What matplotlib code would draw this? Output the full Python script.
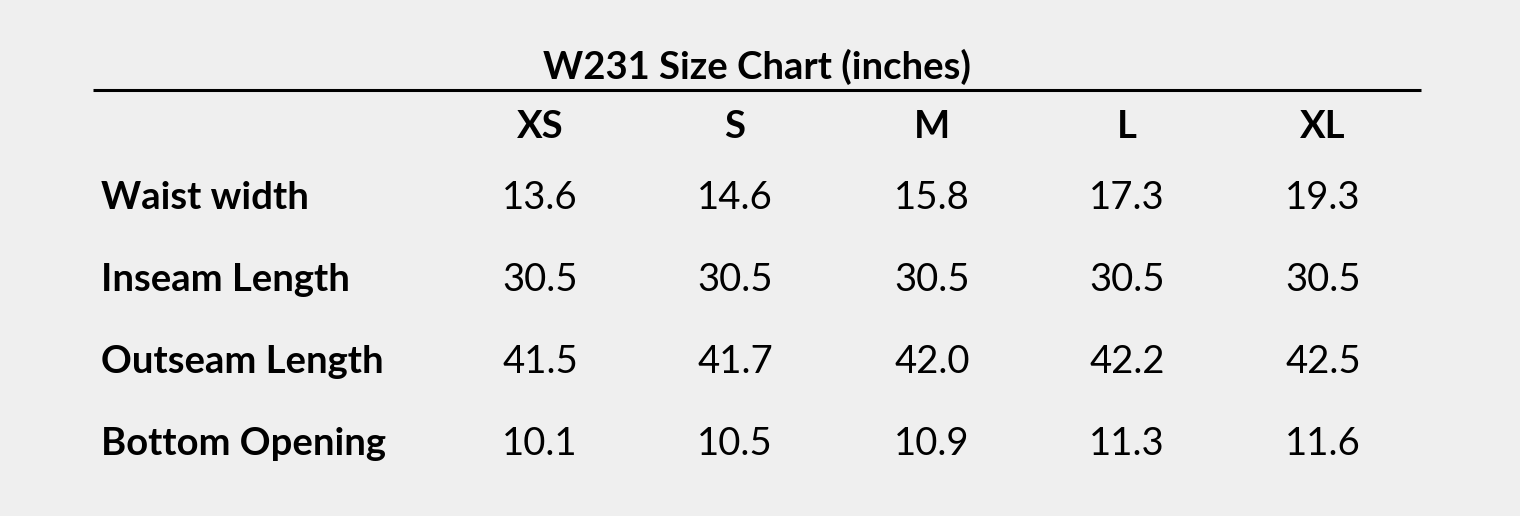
import matplotlib.pyplot as plt

sizes = ["XS", "S", "M", "L", "XL"]
measures = ["Waist width", "Inseam Length", "Outseam Length", "Bottom Opening"]
waist = ["13.6", "14.6", "15.8", "17.3", "19.3"]
inseam = ["30.5", "30.5", "30.5", "30.5", "30.5"]
outseam = ["41.5", "41.7", "42.0", "42.2", "42.5"]
bottom = ["10.1", "10.5", "10.9", "11.3", "11.6"]
values = [waist, inseam, outseam, bottom]

plt.rcParams['font.family'] = ['Lato', 'DejaVu Sans']
bg = '#efefef'

fig = plt.figure(figsize=(15.2, 5.16), dpi=100, facecolor=bg)
ax = fig.add_axes([0, 0, 1, 1])
ax.set_facecolor(bg)
ax.set_xlim(0, 1520)
ax.set_ylim(516, 0)
ax.axis('off')

fs = 27.5
ax.text(757, 67, "W231 Size Chart (inches)", ha='center', va='center',
        fontsize=fs, fontweight='bold', color='black')
ax.plot([93, 1421], [90, 90], color='black', lw=2.2, solid_capstyle='butt')

col_x = [540, 735, 932, 1127, 1323]
row_y = [198, 280, 362, 444]

for x, s in zip(col_x, sizes):
    ax.text(x, 127, s, ha='center', va='center', fontsize=fs, fontweight='bold')

for y, name, vals in zip(row_y, measures, values):
    ax.text(101, y, name, ha='left', va='center', fontsize=fs, fontweight='bold')
    for x, v in zip(col_x, vals):
        ax.text(x, y, v, ha='center', va='center', fontsize=fs)

fig.savefig("out.png", dpi=100, facecolor=bg)
